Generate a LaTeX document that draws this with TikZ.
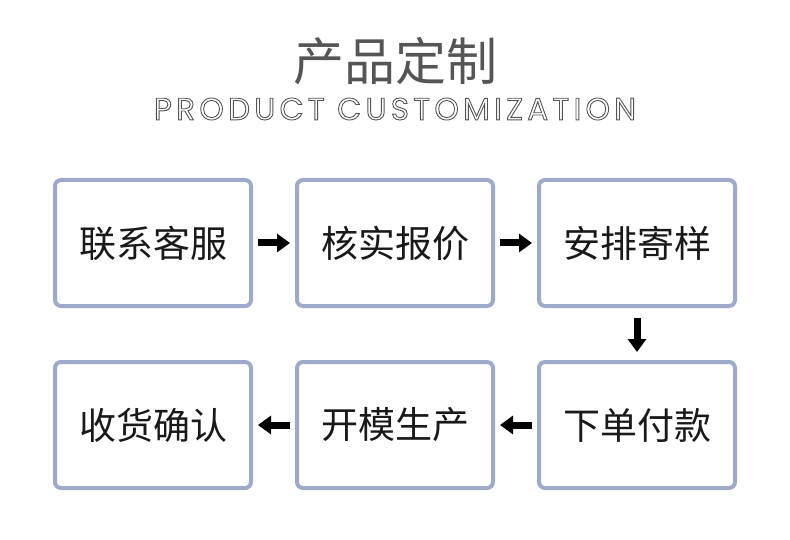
\documentclass[tikz,border=0pt]{standalone}
\usepackage{fontspec}
\usetikzlibrary{positioning, arrows.meta}
\newfontfamily\cjk{Noto Sans CJK SC}
\newfontfamily\latinfont[LetterSpace=14]{Poppins}
\definecolor{boxblue}{HTML}{9DAACA}
\definecolor{titlegray}{HTML}{555555}
\newcommand{\hollow}[1]{\special{pdf:literal direct 1 Tr 0.9 w}#1\special{pdf:literal direct 0 Tr}}

\begin{document}
\begin{tikzpicture}[x=1pt, y=-1pt,
    stepbox/.style={draw=boxblue, line width=4pt, rounded corners=6pt, fill=white,
      minimum width=196pt, minimum height=126pt, text=black!90,
      font=\cjk\fontsize{37}{37}\selectfont},
    flow/.style={line width=7pt, -{Triangle[length=13pt, width=18pt]}}]
    \useasboundingbox (0,0) rectangle (790,540);
    % title
    \node[text=titlegray, font=\cjk\fontsize{51}{51}\selectfont] (title) at (395,61) {产品定制};
    \node[text=titlegray, font=\latinfont\fontsize{31}{31}\selectfont] (subtitle) at (395,109)
      {\hollow{PRODUCT CUSTOMIZATION}};
    % first row
    \node[stepbox] (contact) at (153,243) {联系客服};
    \node[stepbox, right=42pt of contact] (quote) {核实报价};
    \node[stepbox, right=42pt of quote] (sample) {安排寄样};
    % second row
    \node[stepbox, below=52pt of sample] (order) {下单付款};
    \node[stepbox, left=42pt of order] (mould) {开模生产};
    \node[stepbox, left=42pt of mould] (confirm) {收货确认};
    % arrows
    \draw[flow, shorten <=5pt, shorten >=5pt] (contact) -- (quote);
    \draw[flow, shorten <=5pt, shorten >=5pt] (quote) -- (sample);
    \draw[flow, shorten <=10pt, shorten >=8pt] (sample) -- (order);
    \draw[flow, shorten <=5pt, shorten >=5pt] (order) -- (mould);
    \draw[flow, shorten <=5pt, shorten >=5pt] (mould) -- (confirm);
\end{tikzpicture}
\end{document}
